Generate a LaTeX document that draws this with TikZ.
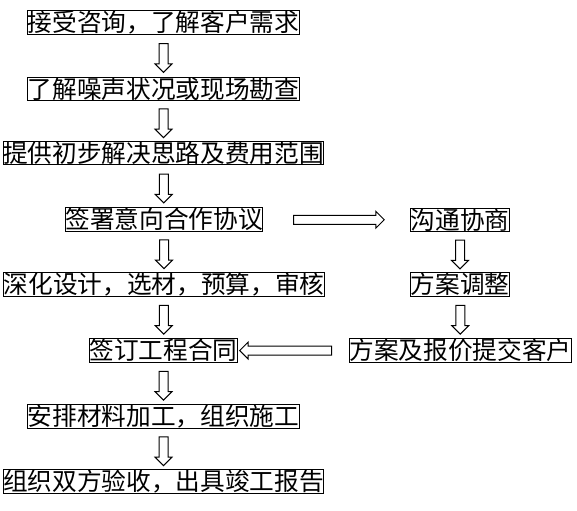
\documentclass[tikz,border=0pt]{standalone}
\usepackage{fontspec}
\newfontfamily\cjk{Noto Sans CJK SC}
\usetikzlibrary{shapes.arrows}

\tikzset{
  flowbox/.style={draw, line width=0.75pt, inner xsep=0pt, inner ysep=0.3pt,
    font=\cjk\fontsize{18.5pt}{18.5pt}\selectfont, text height=15.2pt, text depth=1.5pt},
  hollow/.style={single arrow, draw, line width=0.75pt, fill=white, inner sep=3pt,
    single arrow head extend=3pt, minimum width=0pt},
  downarr/.style={hollow, shape border rotate=270, minimum height=21.5pt},
  rightarr/.style={hollow, shape border rotate=0, minimum height=68pt},
  leftarr/.style={hollow, shape border rotate=180, minimum height=69pt}
}

\begin{document}
\begin{tikzpicture}[x=0.75pt, y=-0.75pt]
        \useasboundingbox (0,0) rectangle (577,510);

        % Draw nodes
        \node[flowbox] (ask)     at (163.5,22.5)  {接受咨询，了解客户需求};
        \node[flowbox] (survey)  at (163.5,89)    {了解噪声状况或现场勘查};
        \node[flowbox] (idea)    at (163.5,153)   {提供初步解决思路及费用范围};
        \node[flowbox] (intent)  at (164,219.5)   {签署意向合作协议};
        \node[flowbox] (design)  at (164,284.5)   {深化设计，选材，预算，审核};
        \node[flowbox] (sign)    at (163.5,350.5) {签订工程合同};
        \node[flowbox] (build)   at (163.5,416.5) {安排材料加工，组织施工};
        \node[flowbox] (accept)  at (163.5,481.5) {组织双方验收，出具竣工报告};

        \node[flowbox] (talk)    at (460,220)     {沟通协商};
        \node[flowbox] (adjust)  at (460,284.5)   {方案调整};
        \node[flowbox] (submit)  at (460.5,350.5) {方案及报价提交客户};

        % Draw connections
        \path (ask.south)    -- (survey.north) node[midway, downarr] {};
        \path (survey.south) -- (idea.north)   node[midway, downarr] {};
        \path (idea.south)   -- (intent.north) node[midway, downarr] {};
        \path (intent.south) -- (design.north) node[midway, downarr] {};
        \path (design.south) -- (sign.north)   node[midway, downarr] {};
        \path (sign.south)   -- (build.north)  node[midway, downarr] {};
        \path (build.south)  -- (accept.north) node[midway, downarr] {};

        \path (intent.east)  -- (talk.west)    node[midway, rightarr] {};
        \path (talk.south)   -- (adjust.north) node[midway, downarr] {};
        \path (adjust.south) -- (submit.north) node[midway, downarr] {};
        \path (submit.west)  -- (sign.east)    node[pos=0.55, leftarr] {};
    \end{tikzpicture}
\end{document}
